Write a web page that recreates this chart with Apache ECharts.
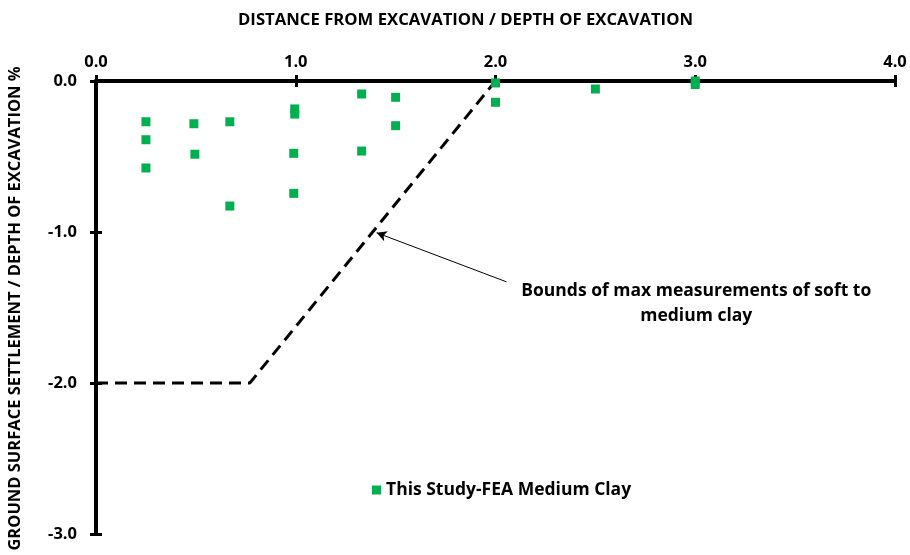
<!DOCTYPE html>
<html><head><meta charset="utf-8">
<script src="https://cdn.jsdelivr.net/npm/echarts@6/dist/echarts.min.js"></script>
<style>html,body{margin:0;padding:0;background:#fff}#c{width:910px;height:555px}</style>
</head><body><div id="c"></div>
<script>
// ---- data ----
const xTicks = [0, 1, 2, 3, 4];
const yTicks = [-3, -2, -1, 0];
const seriesName = 'This Study-FEA Medium Clay';
const feaX = [0.25, 0.25, 0.25, 0.49, 0.495, 0.67, 0.67, 0.995, 0.995, 0.99, 0.99, 1.33, 1.33, 1.5, 1.5, 2.0, 2.0, 2.5, 3.0, 3.0];
const feaY = [-0.27, -0.389, -0.576, -0.283, -0.485, -0.27, -0.828, -0.185, -0.219, -0.479, -0.744, -0.086, -0.464, -0.108, -0.296, -0.013, -0.141, -0.053, 0.0, -0.023];
const boundX = [0, 0.77, 2.0];
const boundY = [-2.0, -2.0, 0.0];
const arrowFrom = [2.055, -1.33];
const arrowTo = [1.405, -1.005];
const noteAt = [3.005, -1.474];
const noteText = 'Bounds of max measurements of soft to\nmedium clay';
const xName = 'DISTANCE FROM EXCAVATION / DEPTH OF EXCAVATION';
const yName = 'GROUND SURFACE SETTLEMENT / DEPTH OF EXCAVATION %';

const FONT = 'Open Sans';
const chart = echarts.init(document.getElementById('c'));
const gridPos = {left: 96, top: 81, right: 15, bottom: 21, containLabel: false, outerBoundsMode: 'none'};
chart.setOption({
  animation: false,
  grid: [Object.assign({}, gridPos), Object.assign({}, gridPos)],
  legend: {
    data: [{name: seriesName, itemStyle: {color: '#00B050', opacity: 1}}], left: 367, top: 476, itemWidth: 9, itemHeight: 9, itemGap: 8,
    textStyle: {fontFamily: FONT, fontWeight: 'bold', fontSize: 17.5, color: '#000'}
  },
  xAxis: [{
    type: 'value', gridIndex: 0, position: 'top', min: xTicks[0], max: xTicks[xTicks.length-1], interval: 1,
    name: xName, nameLocation: 'middle', nameGap: 52,
    nameTextStyle: {fontFamily: FONT, fontWeight: 'bold', fontSize: 16.7, color: '#000', padding: [0, 60, 0, 0]},
    axisLine: {show: true, onZero: false, lineStyle: {color: '#000', width: 4}},
    axisTick: {show: true, inside: false, length: 6, lineStyle: {color: '#000', width: 3}},
    axisLabel: {fontFamily: FONT, fontWeight: 'bold', fontSize: 16.5, color: '#000', margin: 10, formatter: v => v.toFixed(1)},
    splitLine: {show: false}
  }, {
    type: 'value', gridIndex: 1, position: 'top', min: xTicks[0], max: xTicks[xTicks.length-1], interval: 1,
    axisLine: {show: false}, axisLabel: {show: false}, splitLine: {show: false},
    axisTick: {show: true, inside: true, length: 6, lineStyle: {color: '#000', width: 3}}
  }],
  yAxis: [{
    type: 'value', gridIndex: 0, position: 'left', min: yTicks[0], max: yTicks[yTicks.length-1], interval: 1,
    name: yName, nameLocation: 'middle', nameGap: 72,
    nameTextStyle: {fontFamily: FONT, fontWeight: 'bold', fontSize: 16.5, color: '#000', padding: [0, 2, 0, 0]},
    axisLine: {show: true, onZero: false, lineStyle: {color: '#000', width: 4}},
    axisTick: {show: true, inside: false, length: 6, lineStyle: {color: '#000', width: 3}},
    axisLabel: {fontFamily: FONT, fontWeight: 'bold', fontSize: 16.5, color: '#000', margin: 19, formatter: v => v.toFixed(1)},
    splitLine: {show: false}
  }, {
    type: 'value', gridIndex: 1, position: 'left', min: yTicks[0], max: yTicks[yTicks.length-1], interval: 1,
    axisLine: {show: false}, axisLabel: {show: false}, splitLine: {show: false},
    axisTick: {show: true, inside: true, length: 6, lineStyle: {color: '#000', width: 3}}
  }],
  series: [{
    name: 'Bounds', type: 'line', xAxisIndex: 0, yAxisIndex: 0,
    data: boundX.map((x, i) => [x, boundY[i]]),
    symbol: 'none', lineStyle: {color: '#000', width: 3, type: [12, 7]}, z: 2,
    markLine: {
      silent: true, symbol: ['none', 'arrow'], symbolSize: [8, 10],
      lineStyle: {color: '#000', width: 1, type: 'solid'}, label: {show: false},
      data: [[{coord: arrowFrom}, {coord: arrowTo}]]
    }
  }, {
    name: seriesName, type: 'scatter', xAxisIndex: 0, yAxisIndex: 0,
    data: feaX.map((x, i) => [x, feaY[i]]),
    symbol: 'rect', symbolSize: 9, itemStyle: {color: '#00B050', opacity: 1}, z: 3
  }, {
    name: 'note', type: 'scatter', xAxisIndex: 0, yAxisIndex: 0,
    data: [noteAt], symbolSize: 1, silent: true, itemStyle: {color: 'rgba(0,0,0,0)', opacity: 1},
    label: {show: true, position: 'inside', formatter: noteText, align: 'center', verticalAlign: 'middle',
      fontFamily: FONT, fontWeight: 'bold', fontSize: 17.5, lineHeight: 25, color: '#000', textBorderWidth: 0, opacity: 1}
  }]
});
</script></body></html>
